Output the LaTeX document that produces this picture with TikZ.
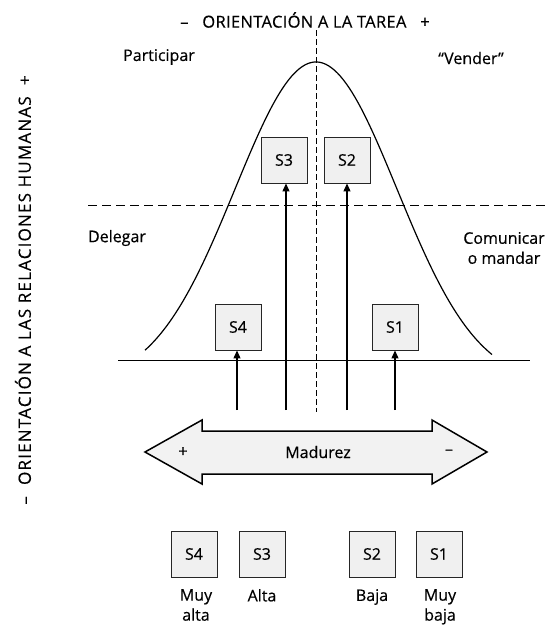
\documentclass[tikz,border=0pt]{standalone}
\usepackage{fontspec}
\setmainfont{Open Sans}[FakeBold=0.4]
\usetikzlibrary{arrows.meta}
\begin{document}
\begin{tikzpicture}[x=1pt,y=-1pt,
  sbox/.style={draw=black!85, line width=0.9pt, fill=black!6, minimum width=46pt, minimum height=46pt, inner sep=0pt, font=\fontsize{16}{16}\selectfont},
  lbl/.style={font=\fontsize{16}{20}\selectfont, inner sep=0pt, align=center},
  upar/.style={line width=1.1pt, -{Triangle[length=8pt,width=7pt]}},
  ]
\useasboundingbox (0,0) rectangle (546,625);
% titles
\node[lbl, font=\fontsize{16.5}{20}\selectfont\addfontfeature{LetterSpace=2}] (tarea) at (305,20) {–\ \ \ ORIENTACIÓN A LA TAREA\ \ \ +};
\node[lbl, rotate=90, font=\fontsize{17}{20}\selectfont\addfontfeature{LetterSpace=7}] (rel) at (23,290) {–\ \ ORIENTACIÓN A LAS RELACIONES HUMANAS\ \ +};
% axes
\draw[line width=0.9pt, dash pattern=on 6pt off 3pt] (316,30) -- (316,412);
\draw[line width=0.9pt, dash pattern=on 9pt off 5pt] (88,205) -- (546,205);
\draw[line width=0.9pt] (118,360) -- (530,360);
% bell curve
\draw[line width=1.2pt, smooth] plot[domain=-171:176, samples=120] ({316+\x},{385-323*exp(-0.5*(\x/81)^2)});
% style labels
\node[lbl] (part) at (159,57) {Participar};
\node[lbl] (vend) at (471,58) {“Vender”};
\node[lbl] (deleg) at (117,238) {Delegar};
\node[lbl] (comun) at (504,248) {Comunicar\\o mandar};
% boxes on curve
\node[sbox] (s3) at (284,160) {S3};
\node[sbox] (s2) at (347,160) {S2};
\node[sbox] (s4) at (238,327) {S4};
\node[sbox] (s1) at (395,327) {S1};
% arrows
\coordinate (a4) at (237,410);
\coordinate (a3) at (286,410);
\coordinate (a2) at (347,410);
\coordinate (a1) at (395,410);
\draw[upar] (a4) -- (a4 |- s4.south);
\draw[upar] (a3) -- (a3 |- s3.south);
\draw[upar] (a2) -- (a2 |- s2.south);
\draw[upar] (a1) -- (a1 |- s1.south);
% maturity double arrow
\draw[line width=1.5pt, fill=black!5, line join=miter] (145,452) -- (202,420) -- (202,431) -- (432,431) -- (432,420) -- (487,452) -- (432,484) -- (432,474) -- (202,474) -- (202,484) -- cycle;
\node[lbl] (mad) at (318,452) {Madurez};
\node[lbl] (mas) at (183,452) {+};
\node[lbl] (men) at (449,452) {–};
% bottom boxes
\node[sbox] (b4) at (194,554) {S4};
\node[sbox] (b3) at (262,554) {S3};
\node[sbox] (b2) at (372,554) {S2};
\node[sbox] (b1) at (439,554) {S1};
\node[lbl, anchor=north] (l4) at (196,589) {Muy\\alta};
\node[lbl, anchor=north] (l3) at (262,589) {Alta};
\node[lbl, anchor=north] (l2) at (372,589) {Baja};
\node[lbl, anchor=north] (l1) at (440,589) {Muy\\baja};
\end{tikzpicture}
\end{document}
